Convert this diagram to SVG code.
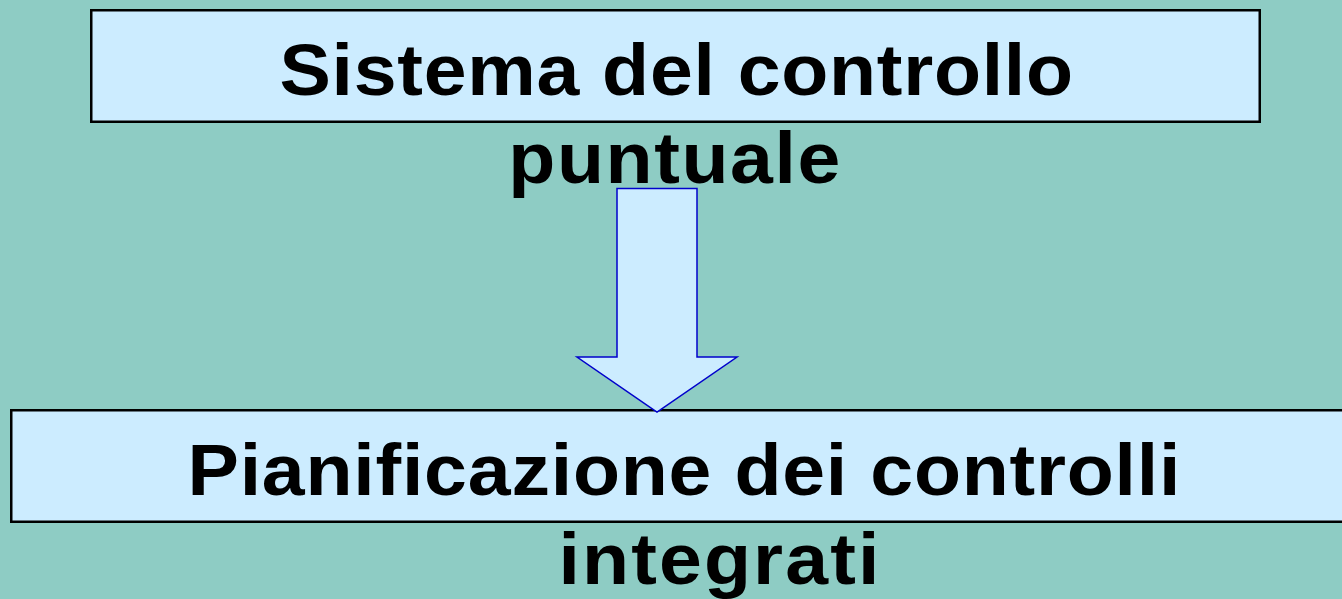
<svg xmlns="http://www.w3.org/2000/svg" width="1342" height="599" viewBox="0 0 1342 599">
  <style>
    .box { fill: #CCECFF; stroke: #000000; stroke-width: 2.5; }
    .arrow { fill: #CCECFF; stroke: #0000CC; stroke-width: 1.5; stroke-linejoin: miter; }
    .lbl { font-family: "Liberation Sans", Arial, sans-serif; font-weight: bold; font-size: 72px; fill: #000000; }
  </style>
  <rect x="0" y="0" width="1342" height="599" fill="#8ECCC4"/>
  <g id="node-sistema">
    <rect class="box" x="91.25" y="10.25" width="1168.5" height="111.5"/>
  </g>
  <g id="node-pianificazione">
    <rect class="box" x="11.25" y="410.25" width="1340" height="111.5"/>
  </g>
  <g id="connectors">
    <polygon class="arrow" points="617,188.5 697,188.5 697,357 737,357 657,412 577,357 617,357"/>
  </g>
  <g id="labels" transform="scale(1.07,1)">
    <text class="lbl" x="261.2" y="95" textLength="741.6" lengthAdjust="spacing">Sistema del controllo</text>
    <text class="lbl" x="475" y="183" textLength="310.3" lengthAdjust="spacing">puntuale</text>
    <text class="lbl" x="175.2" y="495" textLength="928" lengthAdjust="spacing">Pianificazione dei controlli</text>
    <text class="lbl" x="521.9" y="584" textLength="300" lengthAdjust="spacing">integrati</text>
  </g>
</svg>
